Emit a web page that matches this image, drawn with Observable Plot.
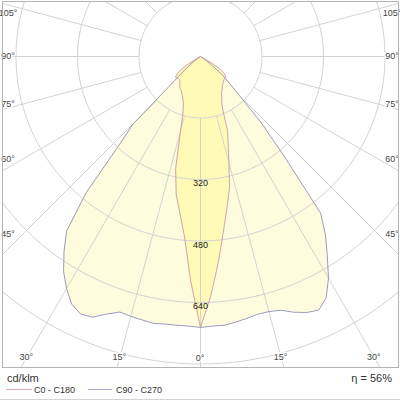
<!DOCTYPE html>
<html><head><meta charset="utf-8">
<script src="https://cdn.jsdelivr.net/npm/d3@7"></script>
<script src="https://cdn.jsdelivr.net/npm/@observablehq/plot@0.6"></script>
<style>
body{margin:0;background:#fff;font-family:"Liberation Sans",Arial,sans-serif;color:#333;}
#wrap{width:400px;height:400px;position:relative;overflow:hidden;background:#fff}
#legend{position:absolute;left:0;top:368px;width:400px;height:31px;border-bottom:1px solid #d4d4d4;}
#legend span{position:absolute;white-space:nowrap;}
.unit{left:7px;top:3px;font-size:11px;line-height:14px;}
.item{top:16px;font-size:9px;line-height:12px;}
.ln{position:absolute;top:21px;height:1px;}
.eta{right:8px;top:3px;font-size:11px;line-height:14px;}
</style></head>
<body><div id="wrap"><div id="chart"></div>
<div id="legend">
<span class="unit">cd/klm</span>
<div class="ln" id="l1" style="left:6px;width:26px"></div><span class="item" id="t1" style="left:34px"></span>
<div class="ln" id="l2" style="left:88px;width:24px"></div><span class="item" id="t2" style="left:116px"></span>
<span class="eta" id="eta"></span>
</div></div>
<script>
// gamma angles (degrees from nadir)
const gamma = [0,2.5,5,7.5,10,12.5,15,17.5,20,22.5,25,27.5,30,32.5,35,37.5,40,42.5,45,47.5,50,52.5,55,57.5,60,62.5,65,67.5,70,72.5,75,77.5,80,82.5,85,87.5,90];
// luminous intensity, cd/klm
const C0   = [705,622,536,458,398,349,286,239,206,153,130,120,109,104,99,94,91,88,86,86,86,81,73,57,31,10,0,0,0,0,0,0,0,0,0,0,0];
const C180 = [705,585,473,411,364,299,200,151,130,120,112,107,101,99,94,88,83,81,81,83,85,78,68,47,21,5,0,0,0,0,0,0,0,0,0,0,0];
const C90  = [705,702,702,697,692,687,687,692,708,721,728,708,666,614,567,513,338,234,143,99,73,39,13,0,0,0,0,0,0,0,0,0,0,0,0,0,0];
const C270 = [705,702,702,702,705,702,700,697,713,734,739,726,697,663,619,572,463,317,247,78,52,26,8,0,0,0,0,0,0,0,0,0,0,0,0,0,0];
const ringValues = [160,320,480,640,800,960,1120];
const ringLabels = [320,480,640];
const angleTicks = [0,15,30,45,60,75,90,105];
const spokeAngles = [15,30,45,60,75,90,105,120,135,150,165];
const seriesNames = ["C0 - C180","C90 - C270"];
const eta = "η = 56%";

const colWideFill = "#fefcdc", colNarrowFill = "#fffab6";
const colNarrowLine = "#cfa3aa", colWideLine = "#9b9bbd";
const colGrid = "#d3d3d3";

const k = 61.5/160; // px per cd
const rad = d => d*Math.PI/180;

function curve(rightVals, leftVals){
  const pts = [];
  for (let i = gamma.length-1; i >= 0; i--) pts.push({x: -leftVals[i]*Math.sin(rad(gamma[i])), y: leftVals[i]*Math.cos(rad(gamma[i]))});
  for (let i = 1; i < gamma.length; i++) pts.push({x: rightVals[i]*Math.sin(rad(gamma[i])), y: rightVals[i]*Math.cos(rad(gamma[i]))});
  return pts;
}
const narrow = curve(C0, C180);
const wide = curve(C90, C270);

const rings = [];
for (const R of ringValues) for (let a = 0; a <= 360; a += 2) rings.push({R, x: R*Math.sin(rad(a)), y: R*Math.cos(rad(a))});

const spokes = [{a:0}];
for (const a of spokeAngles) { spokes.push({a}); spokes.push({a:-a}); }
spokes.push({a:180});
const r0 = ringValues[0], r1 = 2000;

// angle labels
const labels = [];
const sideX = 178, botY = 301, topY = 43;
for (const a of angleTicks) {
  for (const s of (a === 0 ? [0] : [-1, 1])) {
    const sn = Math.sin(rad(a)), cs = Math.cos(rad(a));
    if (a === 0) { labels.push({x: 0, y: (botY+1)/k, t: "0°", anchor: "middle", dx: 1}); continue; }
    const yAtSide = sideX*cs/sn;
    if (yAtSide > botY) {
      const xb = botY*sn/cs;
      labels.push({x: s*xb/k, y: botY/k, t: a+"°", anchor: s < 0 ? "end" : "start", dx: s*2});
    } else {
      const yy = Math.max(-topY, yAtSide);
      labels.push({x: s*192/k, y: yy/k, t: a+"°", anchor: s < 0 ? "start" : "end", dx: 0});
    }
  }
}

const plot = Plot.plot({
  width: 400, height: 368,
  marginLeft: 2, marginRight: 2, marginTop: 1, marginBottom: 1,
  x: {domain: [-198/k, 198/k], axis: null},
  y: {domain: [-55/k, 311/k], reverse: true, axis: null},
  style: {fontFamily: "'Liberation Sans', Arial, sans-serif", fontSize: "9px", background: "white", color: "#333"},
  marks: [
    Plot.area(wide, {x1: "x", y1: "y", x2: 0, y2: 0, fill: colWideFill}),
    Plot.area(narrow, {x1: "x", y1: "y", x2: 0, y2: 0, fill: colNarrowFill}),
    Plot.line(rings, {x: "x", y: "y", z: "R", stroke: colGrid, strokeWidth: 1, clip: true}),
    Plot.link(spokes, {x1: d => r0*Math.sin(rad(d.a)), y1: d => r0*Math.cos(rad(d.a)), x2: d => r1*Math.sin(rad(d.a)), y2: d => r1*Math.cos(rad(d.a)), stroke: colGrid, strokeWidth: 1, clip: true}),
    Plot.line(wide, {x: "x", y: "y", stroke: colWideLine, strokeWidth: 1}),
    Plot.line(narrow, {x: "x", y: "y", stroke: colNarrowLine, strokeWidth: 1}),
    Plot.text(ringLabels, {x: 0, y: d => d, dy: 4, text: d => String(d), fill: "#222", fontSize: 9}),
    Plot.text(labels, {x: "x", y: "y", text: "t", textAnchor: "anchor", dx: "dx", fill: "#444", fontSize: 9, stroke: "white", strokeWidth: 3}),
    Plot.frame({stroke: "#b4b4b4"})
  ]
});
document.getElementById("chart").appendChild(plot);
document.getElementById("l1").style.background = "#d9b3bf";
document.getElementById("l2").style.background = "#a9a9c9";
document.getElementById("t1").textContent = seriesNames[0];
document.getElementById("t2").textContent = seriesNames[1];
document.getElementById("eta").textContent = eta;
</script>
</body></html>
